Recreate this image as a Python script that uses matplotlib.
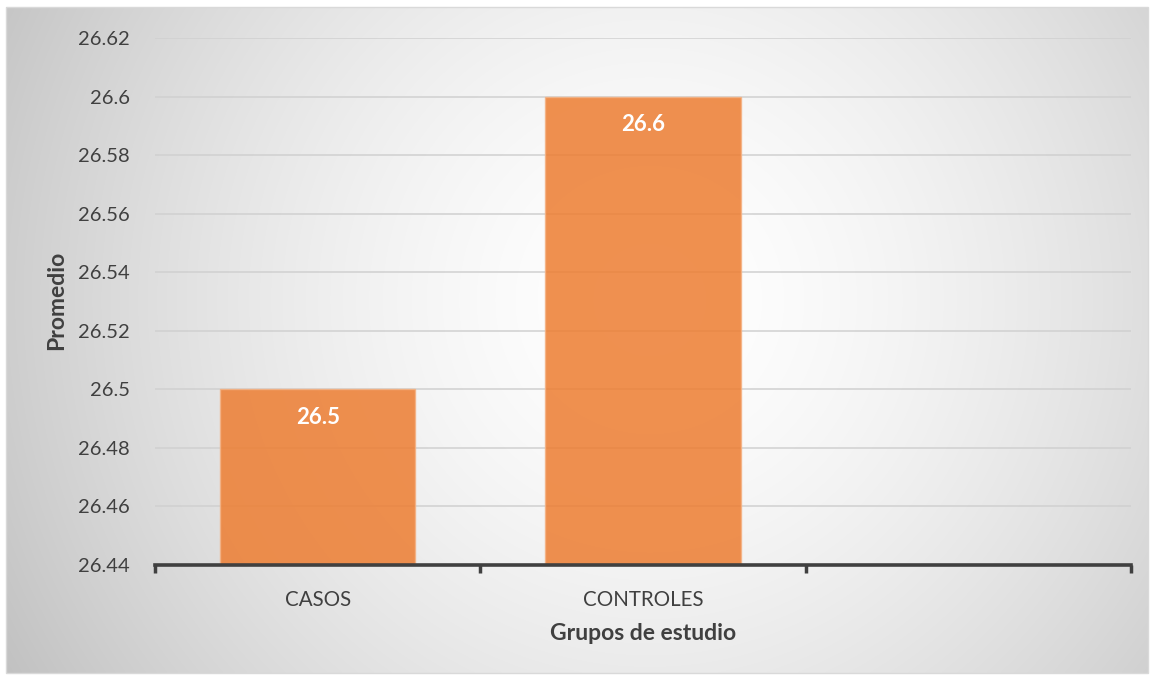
import numpy as np
import matplotlib
matplotlib.use("Agg")
import matplotlib.pyplot as plt
from matplotlib.patches import Rectangle

# Data
categories = ["CASOS", "CONTROLES", ""]
values = [26.5, 26.6, None]
y_ticks = [26.44, 26.46, 26.48, 26.5, 26.52, 26.54, 26.56, 26.58, 26.6, 26.62]
y_tick_labels = ["26.44", "26.46", "26.48", "26.5", "26.52", "26.54", "26.56", "26.58", "26.6", "26.62"]
bar_labels = ["26.5", "26.6"]

W, H = 1154, 677
FONT = "Lato"
TEXT = "#404040"

fig = plt.figure(figsize=(W / 100, H / 100), dpi=100)
fig.patch.set_facecolor("white")

# Chart area with radial gradient background and thin border
bx0, by0, bx1, by1 = 6, 7, 1148, 673
bg = fig.add_axes([bx0 / W, 1 - by1 / H, (bx1 - bx0) / W, (by1 - by0) / H], zorder=0)
gx = np.linspace(bx0, bx1, 580)
gy = np.linspace(by0, by1, 340)
X, Y = np.meshgrid(gx, gy)
cx, cy = 650.0, 300.0
r = np.sqrt((X - cx) ** 2 + (Y - cy) ** 2) / 740.0
r = np.clip(r, 0, 1)
shade = 1.0 - 0.24 * r ** 1.6
img = np.dstack([shade, shade, shade])
bg.imshow(img, extent=[0, 1, 1, 0], aspect="auto", interpolation="bilinear")
bg.set_xlim(0, 1)
bg.set_ylim(1, 0)
bg.axis("off")
fig.add_artist(Rectangle((bx0 / W, 1 - by1 / H), (bx1 - bx0) / W, (by1 - by0) / H,
                         transform=fig.transFigure, fill=False, edgecolor="#D9D9D9", lw=1.0, zorder=5))

# Plot area
px0, px1, py0, py1 = 155, 1131, 38, 565
ax = fig.add_axes([px0 / W, 1 - py1 / H, (px1 - px0) / W, (py1 - py0) / H], zorder=2)
ax.patch.set_alpha(0)

x = np.arange(len(categories))
ymin, ymax = 26.44, 26.62
for i, v in enumerate(values):
    if v is None:
        continue
    ax.bar(x[i], v - ymin, bottom=ymin, width=0.6, color="#ED7D31", alpha=0.85,
           edgecolor="#F4B183", linewidth=1.0, zorder=3)
    ax.text(x[i], v - 0.0095, bar_labels[i], ha="center", va="center", color="white",
            fontsize=16, fontweight="bold", family=FONT, zorder=4)

ax.set_xlim(-0.5, len(categories) - 0.5)
ax.set_ylim(ymin, ymax)
ax.set_yticks(y_ticks)
ax.set_yticklabels(y_tick_labels, family=FONT, fontsize=14.5, color=TEXT)
ax.tick_params(axis="y", length=0, pad=18)
for yt in y_ticks[1:]:
    ax.axhline(yt, color="#D0D0D0", lw=1.1, zorder=1)

# Category ticks sit between categories
ax.set_xticks(np.arange(-0.5, len(categories), 1.0))
ax.set_xticklabels([])
ax.set_xticks(x, minor=True)
ax.set_xticklabels(categories, minor=True, family=FONT, fontsize=14.8, color=TEXT)
ax.tick_params(axis="x", which="major", length=6, width=2.5, color="#404040", direction="out")
ax.tick_params(axis="x", which="minor", length=0, pad=18)

for s in ["top", "right", "left"]:
    ax.spines[s].set_visible(False)
ax.spines["bottom"].set_color("#404040")
ax.spines["bottom"].set_linewidth(2.6)
ax.spines["bottom"].set_zorder(5)

fig.text(57 / W, 1 - 300 / H, "Promedio", rotation=90, ha="center", va="center",
         family=FONT, fontsize=16.5, fontweight="bold", color=TEXT)
fig.text(643 / W, 1 - 633 / H, "Grupos de estudio", ha="center", va="center",
         family=FONT, fontsize=16.5, fontweight="bold", color=TEXT)

fig.savefig("out.png", dpi=100)
